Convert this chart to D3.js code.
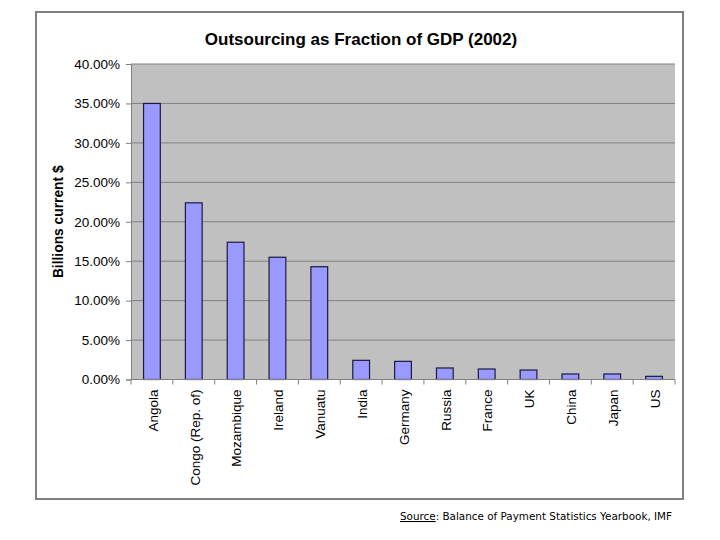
<!DOCTYPE html>
<html>
<head>
<meta charset="utf-8">
<script src="https://cdn.jsdelivr.net/npm/d3@7"></script>
<style>
  html, body { margin: 0; padding: 0; background: #fff; }
  svg { display: block; }
</style>
</head>
<body>
<svg id="chart" width="720" height="540"></svg>
<script>
const categories = ["Angola", "Congo (Rep. of)", "Mozambique", "Ireland", "Vanuatu", "India", "Germany", "Russia", "France", "UK", "China", "Japan", "US"];
const values = [0.350, 0.224, 0.174, 0.155, 0.143, 0.0243, 0.0230, 0.0146, 0.0133, 0.0120, 0.0070, 0.0070, 0.0040];
const yTicks = [0, 0.05, 0.10, 0.15, 0.20, 0.25, 0.30, 0.35, 0.40];
const titleText = "Outsourcing as Fraction of GDP (2002)";
const yAxisTitle = "Billions current $";

const svg = d3.select("#chart");
const plot = { left: 131, right: 675, top: 64, bottom: 379.5 };

// outer chart border
svg.append("rect")
  .attr("x", 36).attr("y", 12)
  .attr("width", 647).attr("height", 487)
  .attr("fill", "#fff").attr("stroke", "#808080").attr("stroke-width", 2);

const x = d3.scaleBand().domain(categories).range([plot.left, plot.right]).paddingInner(0.6).paddingOuter(0.3);
const xb = d3.scaleBand().domain(categories).range([plot.left, plot.right]);
const y = d3.scaleLinear().domain([0, 0.40]).range([plot.bottom, plot.top]);

// plot background
svg.append("rect")
  .attr("x", plot.left).attr("y", plot.top)
  .attr("width", plot.right - plot.left).attr("height", plot.bottom - plot.top)
  .attr("fill", "#c0c0c0");

// gridlines
svg.append("g").selectAll("line").data(yTicks.filter(t => t > 0)).join("line")
  .attr("x1", plot.left).attr("x2", plot.right)
  .attr("y1", d => y(d)).attr("y2", d => y(d))
  .attr("stroke", "#808080").attr("stroke-width", 1);

// y axis
const yAxis = d3.axisLeft(y).tickValues(yTicks).tickFormat(d3.format(".2%")).tickSize(5).tickPadding(6);
const gy = svg.append("g").attr("transform", `translate(${plot.left},0)`).call(yAxis);
gy.select(".domain").attr("stroke", "#808080");
gy.selectAll(".tick line").attr("stroke", "#808080");
gy.selectAll(".tick text")
  .attr("font-family", "'Liberation Sans', Arial, sans-serif")
  .attr("font-size", "13.5px").attr("fill", "#000");

// bars
svg.append("g").selectAll("rect").data(categories).join("rect")
  .attr("x", (d) => xb(d) + xb.bandwidth() * 0.3)
  .attr("width", xb.bandwidth() * 0.4)
  .attr("y", (d, i) => y(values[i]))
  .attr("height", (d, i) => y(0) - y(values[i]))
  .attr("fill", "#9999ff").attr("stroke", "#1a1a40").attr("stroke-width", 1.2);

// x axis line & tick marks at category boundaries
svg.append("line")
  .attr("x1", plot.left).attr("x2", plot.right)
  .attr("y1", plot.bottom).attr("y2", plot.bottom)
  .attr("stroke", "#808080");
const bounds = categories.map(c => xb(c)).concat([plot.right]);
svg.append("g").selectAll("line").data(bounds).join("line")
  .attr("x1", d => d).attr("x2", d => d)
  .attr("y1", plot.bottom).attr("y2", plot.bottom + 5)
  .attr("stroke", "#808080");

// category labels
svg.append("g").selectAll("text").data(categories).join("text")
  .attr("transform", d => `translate(${xb(d) + xb.bandwidth() / 2 + 1},${plot.bottom + 10}) rotate(-90)`)
  .attr("text-anchor", "end").attr("dy", "0.35em")
  .attr("font-family", "'Liberation Sans', Arial, sans-serif")
  .attr("font-size", "13.5px").attr("fill", "#000")
  .text(d => d);

// title
svg.append("text")
  .attr("x", 361).attr("y", 45)
  .attr("text-anchor", "middle")
  .attr("font-family", "'Liberation Sans', Arial, sans-serif")
  .attr("font-weight", "bold").attr("font-size", "17px")
  .text(titleText);

// y axis title
svg.append("text")
  .attr("transform", `translate(63,${(plot.top + plot.bottom) / 2}) rotate(-90)`)
  .attr("text-anchor", "middle")
  .attr("font-family", "'Liberation Sans', Arial, sans-serif")
  .attr("font-weight", "bold").attr("font-size", "13.8px")
  .text(yAxisTitle);

// source note
const src = svg.append("text")
  .attr("x", 400).attr("y", 520)
  .attr("font-family", "'DejaVu Sans', Verdana, sans-serif")
  .attr("font-size", "10.5px").attr("fill", "#000")
  .attr("textLength", 272).attr("lengthAdjust", "spacingAndGlyphs");
src.append("tspan").attr("text-decoration", "underline").text("Source");
src.append("tspan").text(": Balance of Payment Statistics Yearbook, IMF");
</script>
</body>
</html>
